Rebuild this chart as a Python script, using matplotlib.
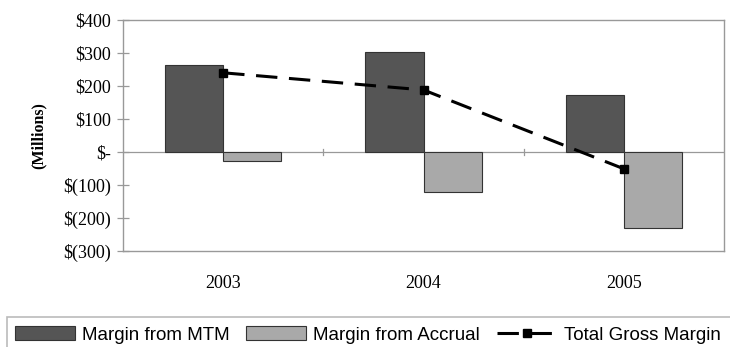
import numpy as np
import matplotlib.pyplot as plt
from matplotlib.patches import Rectangle
from matplotlib.ticker import FixedLocator

years = ["2003", "2004", "2005"]
margin_mtm = [263, 303, 173]
margin_accrual = [-27, -120, -230]
total_gross = [240, 188, -51]
y_ticks = [400, 300, 200, 100, 0, -100, -200, -300]
y_labels = ["$400", "$300", "$200", "$100", "$-", "$(100)", "$(200)", "$(300)"]

serif = "Liberation Serif"
sans = "Liberation Sans"

fig = plt.figure(figsize=(7.3, 3.47), dpi=100)
ax = fig.add_axes([0.1685, 0.2767, 0.8233, 0.6657])

x = np.arange(len(years))
w = 0.29
b1 = ax.bar(x, margin_mtm, width=-w, align="edge", color="#555555",
            edgecolor="#333333", linewidth=0.8, label="Margin from MTM", zorder=2)
b2 = ax.bar(x, margin_accrual, width=w, align="edge", color="#a9a9a9",
            edgecolor="#333333", linewidth=0.8, label="Margin from Accrual", zorder=2)
ln, = ax.plot(x, total_gross, color="black", linestyle=(0, (7, 3.8)), linewidth=2.2,
              marker="s", markersize=6, label="Total Gross Margin", zorder=3)

ax.set_xlim(-0.5, 2.5)
ax.set_ylim(-300, 400)

# zero line acting as category axis
ax.axhline(0, color="#999999", linewidth=0.9, zorder=1)
for b in [0.5, 1.5]:
    ax.plot([b, b], [-8, 8], color="#999999", linewidth=0.9, zorder=1)

for s in ax.spines.values():
    s.set_color("#999999")
    s.set_linewidth(1.0)

ax.yaxis.set_major_locator(FixedLocator(y_ticks))
ax.set_yticklabels(y_labels, fontfamily=serif, fontsize=13)
ax.tick_params(axis="y", direction="inout", length=9, width=0.9,
               color="#999999", pad=4)
ax.set_xticks(x)
ax.set_xticklabels(years, fontfamily=serif, fontsize=13)
ax.tick_params(axis="x", length=0, pad=17)

ax.set_ylabel("(Millions)", fontfamily=serif, fontsize=11.5, fontweight="bold")
ax.yaxis.set_label_coords(-0.1265, 0.5)

# legend strip along the bottom
fig.patches.append(Rectangle((7 / 730, -0.05), 1.0, (347 - 317) / 347 + 0.05,
                             transform=fig.transFigure, fill=False,
                             edgecolor="#bbbbbb", linewidth=1.2))
fig.legend(handles=[b1, b2, ln], loc="center left",
           bbox_to_anchor=(15 / 730, 12 / 347), ncol=3,
           frameon=False, prop={"family": sans, "size": 13.5},
           handlelength=3.2, handleheight=0.7, handletextpad=0.37,
           columnspacing=0.9, borderaxespad=0, borderpad=0)

fig.savefig("out.png", dpi=100)
